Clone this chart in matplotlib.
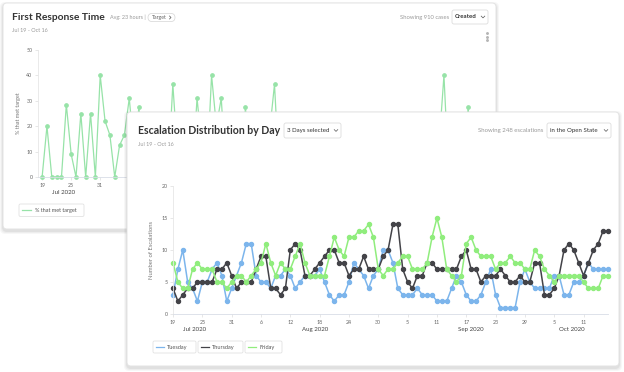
import matplotlib
matplotlib.use("Agg")
import matplotlib.pyplot as plt
from matplotlib.patches import FancyBboxPatch

plt.rcParams['font.family'] = ['Lato', 'DejaVu Sans']

W, H = 624, 372

# back card: First Response Time, % that met target, one value per day from Jul 19
frt_pct = [0, 20, 0, 0, 0, 28.5, 9, 0, 25, 0,
           25, 0, 40, 22, 16.5, 0, 12.5, 16.5, 31, 10,
           27.5, 0, 14, 20, 0, 11, 0, 36.5, 8, 0,
           18, 0, 31, 12, 0, 40, 20, 31, 0, 15,
           9, 0, 27.5, 0, 22, 10, 0, 18, 36.5, 0,
           12, 0, 20, 8, 0, 16, 0, 22, 10, 0,
           14, 0, 20, 0, 9, 18, 0, 12, 0, 22,
           0, 15, 8, 0, 20, 0, 11, 0, 17, 0,
           24, 0, 13, 40, 0, 10, 19, 0, 27.5, 0]

# front card: Escalation Distribution by Day, daily counts from Jul 19 to Oct 16
esc_tuesday = [3, 7, 10, 5, 4, 2, 5, 5, 7, 8,
               6, 2, 4, 6, 8, 11, 11, 6, 5, 5,
               4, 6, 6, 7, 6, 4, 5, 6, 6, 6,
               7, 5, 3, 2, 3, 3, 5, 8, 7, 6,
               4, 6, 7, 10, 10, 8, 4, 3, 3, 3,
               4, 3, 3, 3, 2, 2, 2, 4, 6, 5,
               3, 2, 2, 3, 5, 7, 3, 1, 1, 1,
               1, 5, 7, 5, 4, 4, 4, 4, 6, 6,
               3, 3, 5, 5, 6, 8, 7, 7, 7, 7]
esc_thursday = [4, 2, 3, 4, 4, 5, 5, 5, 5, 7,
                7, 8, 6, 4, 5, 5, 5, 7, 9, 9,
                4, 4, 3, 4, 10, 11, 10, 6, 6, 7,
                8, 9, 10, 10, 8, 8, 6, 7, 7, 9,
                7, 7, 7, 9, 10, 14, 14, 7, 5, 4,
                6, 6, 8, 8, 7, 7, 7, 7, 7, 9,
                10, 7, 7, 5, 6, 6, 6, 7, 6, 5,
                5, 6, 5, 5, 8, 8, 3, 3, 4, 6,
                10, 11, 10, 8, 6, 8, 10, 11, 13, 13]
esc_friday = [8, 5, 4, 4, 7, 8, 7, 7, 7, 5,
              5, 4, 5, 6, 6, 5, 6, 7, 8, 11,
              8, 6, 8, 7, 7, 9, 11, 8, 6, 6,
              6, 6, 9, 12, 10, 9, 12, 12, 13, 13,
              14, 12, 7, 6, 7, 7, 8, 9, 9, 7,
              7, 7, 8, 12, 15, 12, 7, 6, 5, 6,
              11, 12, 10, 9, 9, 9, 7, 8, 8, 9,
              8, 8, 7, 7, 10, 9, 7, 6, 5, 6,
              6, 6, 6, 6, 5, 4, 4, 4, 6, 6]
days = list(range(len(esc_friday)))

tick_days = [0, 6, 12, 18, 24, 30, 36, 42, 48, 54, 60, 66, 72, 78, 84]
tick_labels = ['19', '25', '31', '6', '12', '18', '24', '30', '5', '11', '17', '23', '29', '5', '11']
month_pos = [4.5, 29, 61, 81.5]
month_labels = ['Jul 2020', 'Aug 2020', 'Sep 2020', 'Oct 2020']

BLUE = '#7cb5ec'
DARK = '#434348'
GREEN = '#90ed7d'
MINT = '#97e3a8'
GREY = '#999999'
TXT = '#333333'

fig = plt.figure(figsize=(W / 100, H / 100), dpi=100)
fig.patch.set_facecolor('white')


def px_axes(x0, y0, x1, y1, z):
    return fig.add_axes([x0 / W, 1 - y1 / H, (x1 - x0) / W, (y1 - y0) / H], zorder=z)


def layer(z):
    a = fig.add_axes([0, 0, 1, 1], zorder=z)
    a.set_xlim(0, W)
    a.set_ylim(H, 0)
    a.axis('off')
    return a


def card(a, x, y, w, h):
    for i, al in enumerate([0.05, 0.04, 0.03]):
        a.add_patch(FancyBboxPatch((x - 1 - i, y - i + 1), w + 2 + 2 * i, h + 2 + 2 * i,
                                   boxstyle="round,pad=0,rounding_size=5",
                                   fc='black', ec='none', alpha=al))
    a.add_patch(FancyBboxPatch((x, y), w, h, boxstyle="round,pad=0,rounding_size=4",
                               fc='white', ec='#e4e4e4', lw=0.7))


def dropdown(a, x0, x1, y0, y1, label, bold=False):
    a.add_patch(FancyBboxPatch((x0, y0), x1 - x0, y1 - y0, boxstyle="round,pad=0,rounding_size=2",
                               fc='white', ec='#dcdcdc', lw=0.6))
    a.text(x0 + 3, (y0 + y1) / 2, label, fontsize=4.4, color=TXT, va='center', ha='left',
           fontweight='bold' if bold else 'normal')
    cx, cy = x1 - 5, (y0 + y1) / 2
    a.plot([cx - 1.8, cx, cx + 1.8], [cy - 0.9, cy + 0.9, cy - 0.9], color='#555555', lw=0.5)


def style_axes(a, ymax, ystep):
    for s in ['top', 'right']:
        a.spines[s].set_visible(False)
    a.spines['left'].set_color('#e6e6e6')
    a.spines['bottom'].set_color('#d8dde6')
    a.spines['left'].set_linewidth(0.6)
    a.spines['bottom'].set_linewidth(0.6)
    a.set_ylim(0, ymax)
    a.set_yticks(range(0, ymax + 1, ystep))
    a.set_xticks(tick_days)
    a.set_xticklabels(tick_labels)
    a.tick_params(axis='both', labelsize=3.8, colors='#dddddd', labelcolor='#666666',
                  length=2, width=0.5, pad=2)
    a.patch.set_alpha(0)
    for m, lbl in zip(month_pos, month_labels):
        a.text(m, -0.1, lbl, transform=a.get_xaxis_transform(), ha='center', va='top',
               fontsize=4.4, color='#444444')


# ---------- back card ----------
back = layer(1)
card(back, 3, 3, 493, 226)
back.text(12, 17, 'First Response Time', fontsize=7.4, fontweight='bold', color=TXT, va='center')
back.text(110, 17.5, 'Avg: 23 hours |', fontsize=3.9, color=GREY, va='center')
back.add_patch(FancyBboxPatch((148, 13.5), 27, 8, boxstyle="round,pad=0,rounding_size=4",
                              fc='white', ec='#d4d4d4', lw=0.5))
back.text(152, 17.6, 'Target', fontsize=3.8, color='#666666', va='center')
back.plot([169.5, 171, 169.5], [16, 17.5, 19], color='#555555', lw=0.5)
back.text(12, 31, 'Jul 19 - Oct 16', fontsize=4.0, color=GREY, va='center')
back.text(449, 17, 'Showing 910 cases', fontsize=4.2, color=GREY, va='center', ha='right')
dropdown(back, 452, 488, 10, 24, 'Created', bold=True)
back.plot([487, 487, 487], [33, 36.5, 40], ls='none', marker='o', ms=1.1, color='#b5b5b5')
back.add_patch(FancyBboxPatch((19, 204), 65, 12.5, boxstyle="round,pad=0,rounding_size=1.5",
                              fc='white', ec='#e2e2e2', lw=0.6))
back.plot([22, 31], [210.3, 210.3], color=MINT, lw=0.9)
back.text(35, 210.5, '% that met target', fontsize=4.0, color='#555555', va='center')

ax1 = px_axes(38, 50, 473, 177, 2)
ax1.plot(days, frt_pct, color=MINT, lw=0.9, marker='o', ms=2.4, clip_on=False)
style_axes(ax1, 50, 10)
ax1.set_xlim(-0.85, 89)
ax1.set_ylabel('% that met target', fontsize=4.0, color='#777777', labelpad=4)

# ---------- front card ----------
front = layer(3)
card(front, 127, 112, 492, 254)
front.text(138, 130.5, 'Escalation Distribution by Day', fontsize=7.6, fontweight='bold',
           color=TXT, va='center')
dropdown(front, 284, 341, 123, 138, '3 Days selected')
front.text(138, 144, 'Jul 19 - Oct 16', fontsize=4.0, color=GREY, va='center')
front.text(543, 130.5, 'Showing 248 escalations', fontsize=4.3, color=GREY, va='center',
           ha='right')
dropdown(front, 547, 611, 123, 138, 'in the Open State')

legend_items = [('Tuesday', BLUE, 153, 196), ('Thursday', DARK, 198, 243), ('Friday', GREEN, 245, 282)]
for name, col, x0, x1 in legend_items:
    front.add_patch(FancyBboxPatch((x0, 341), x1 - x0, 12, boxstyle="round,pad=0,rounding_size=1.5",
                                   fc='white', ec='#e2e2e2', lw=0.6))
    front.plot([x0 + 3, x0 + 11], [347.2, 347.2], color=col, lw=0.9)
    front.text(x0 + 14, 347.3, name, fontsize=4.1, color='#555555', va='center')

ax2 = px_axes(173, 186, 608, 314, 4)
ax2.plot(days, esc_tuesday, color=BLUE, lw=1.1, marker='o', ms=2.9, clip_on=False)
ax2.plot(days, esc_thursday, color=DARK, lw=1.1, marker='o', ms=2.9, clip_on=False)
ax2.plot(days, esc_friday, color=GREEN, lw=1.1, marker='o', ms=2.9, clip_on=False)
style_axes(ax2, 20, 5)
ax2.set_xlim(0, 89)
ax2.set_ylabel('Number of Escalations', fontsize=4.2, color='#777777', labelpad=5)

fig.savefig('out.png', dpi=100, facecolor='white')
